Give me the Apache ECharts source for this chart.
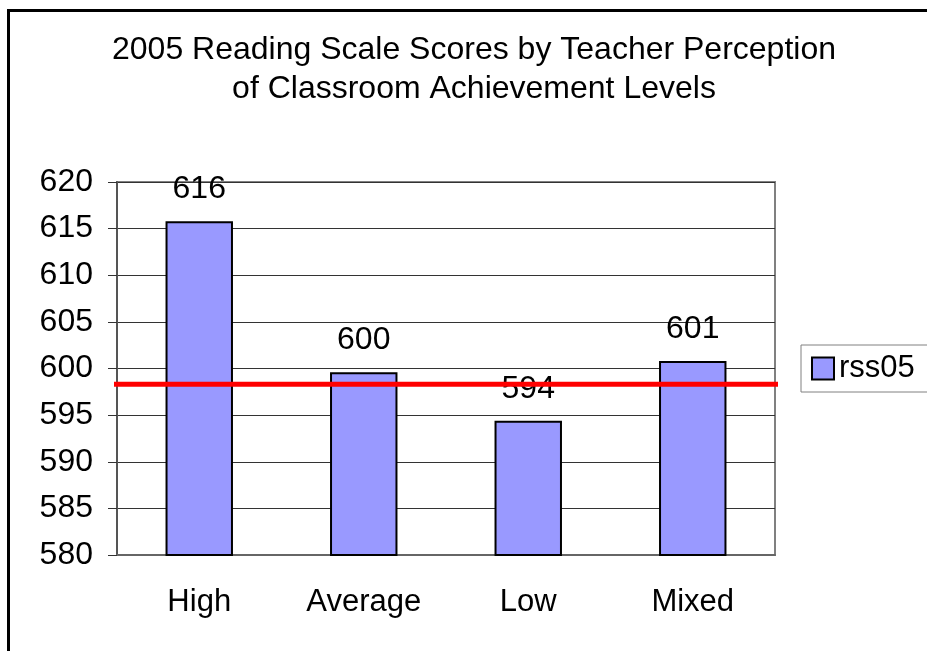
<!DOCTYPE html>
<html>
<head>
<meta charset="utf-8">
<script src="https://cdn.jsdelivr.net/npm/echarts@6/dist/echarts.min.js"></script>
<style>
  html, body { margin: 0; padding: 0; background: #fff; }
  #chart { width: 927px; height: 651px; }
</style>
</head>
<body>
<div id="chart"></div>
<script>
var categories = ['High', 'Average', 'Low', 'Mixed'];
var scores = [615.8, 599.6, 594.4, 600.8];
var seriesName = 'rss05';
var referenceLevel = 598.3;
// reference line runs slightly past the plot on both sides (hidden 0..1 axis)
var refLineX = [-0.005, 1.017];

var font = 'Liberation Sans, Arial, sans-serif';

var myChart = echarts.init(document.getElementById('chart'));

var option = {
  backgroundColor: '#fff',
  animation: false,
  title: {
    text: '2005 Reading Scale Scores by Teacher Perception\nof Classroom Achievement Levels',
    left: 474,
    textAlign: 'center',
    top: 31,
    padding: 0,
    textStyle: {
      fontFamily: font,
      fontSize: 32,
      fontWeight: 'normal',
      color: '#000',
      lineHeight: 39
    }
  },
  legend: {
    data: [seriesName],
    left: 801,
    top: 345,
    orient: 'vertical',
    icon: 'rect',
    itemWidth: 22,
    itemHeight: 22,
    padding: [8, 20, 8, 10],
    borderColor: '#808080',
    borderWidth: 1,
    textStyle: { fontFamily: font, fontSize: 31, color: '#000' }
  },
  grid: {
    left: 117,
    top: 182,
    right: 152,
    bottom: 96,
    show: true,
    borderColor: '#808080',
    borderWidth: 2
  },
  xAxis: [
    {
      type: 'category',
      data: categories,
      axisLine: { lineStyle: { color: '#666', width: 2 } },
      axisTick: { length: 9, lineStyle: { color: '#333', width: 1 } },
      axisLabel: { fontFamily: font, fontSize: 31, color: '#000', margin: 32 }
    },
    {
      type: 'value',
      min: 0,
      max: 1,
      show: false
    }
  ],
  yAxis: {
    type: 'value',
    min: 580,
    max: 620,
    interval: 5,
    axisLine: { show: true, lineStyle: { color: '#555', width: 2 } },
    axisTick: { show: true, length: 9, lineStyle: { color: '#333', width: 1 } },
    axisLabel: { fontFamily: font, fontSize: 32, color: '#000', margin: 24 },
    splitLine: { lineStyle: { color: '#333', width: 1 } }
  },
  series: [
    {
      name: seriesName,
      type: 'bar',
      data: scores,
      barWidth: '41%',
      itemStyle: { color: '#9999FF', borderColor: '#000', borderWidth: 2 },
      label: {
        show: true,
        position: 'top',
        distance: 16,
        fontFamily: font,
        fontSize: 32,
        color: '#000',
        formatter: function (p) { return Math.round(p.value); }
      }
    },
    {
      name: 'reference',
      type: 'line',
      xAxisIndex: 1,
      data: refLineX.map(function (x) { return [x, referenceLevel]; }),
      symbol: 'none',
      clip: false,
      silent: true,
      z: 5,
      lineStyle: { color: '#FF0000', width: 5 }
    }
  ],
  graphic: [
    {
      type: 'rect',
      shape: { x: 8.5, y: 10.5, width: 1000, height: 1000 },
      style: { fill: 'none', stroke: '#000', lineWidth: 3 },
      silent: true
    }
  ]
};

myChart.setOption(option);
</script>
</body>
</html>
